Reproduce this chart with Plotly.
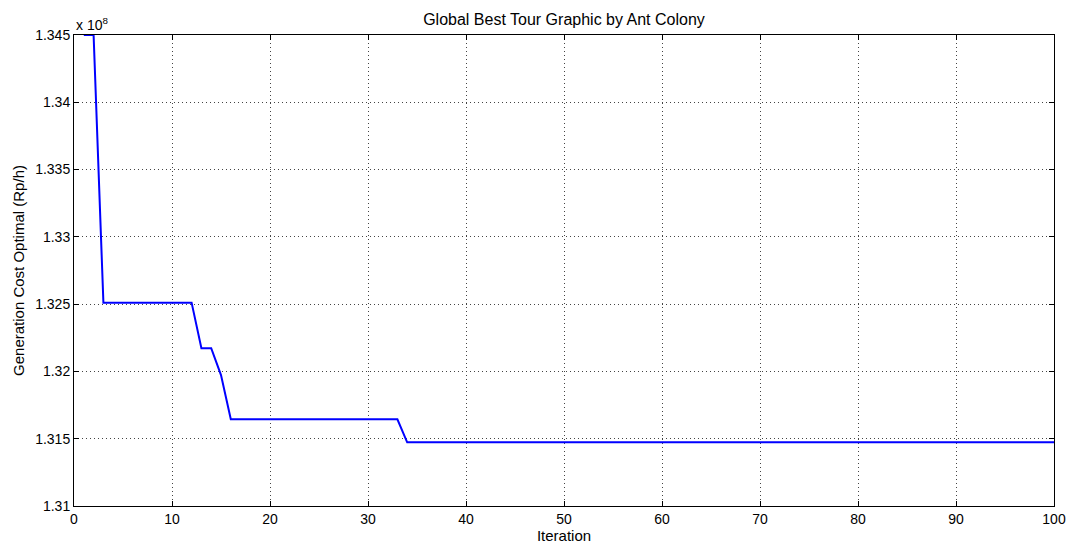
import plotly.graph_objects as go

# Iterations 1..100
iterations = list(range(1, 101))

# Global best generation cost (units of 1e8 Rp/h)
best_cost = [
    1.34500, 1.34500, 1.32511, 1.32511, 1.32511, 1.32511, 1.32511, 1.32511, 1.32511, 1.32511,
    1.32511, 1.32511, 1.32172, 1.32172, 1.31973, 1.31644, 1.31644, 1.31644, 1.31644, 1.31644,
    1.31644, 1.31644, 1.31644, 1.31644, 1.31644, 1.31644, 1.31644, 1.31644, 1.31644, 1.31644,
    1.31644, 1.31644, 1.31644, 1.31473, 1.31473, 1.31473, 1.31473, 1.31473, 1.31473, 1.31473,
    1.31473, 1.31473, 1.31473, 1.31473, 1.31473, 1.31473, 1.31473, 1.31473, 1.31473, 1.31473,
    1.31473, 1.31473, 1.31473, 1.31473, 1.31473, 1.31473, 1.31473, 1.31473, 1.31473, 1.31473,
    1.31473, 1.31473, 1.31473, 1.31473, 1.31473, 1.31473, 1.31473, 1.31473, 1.31473, 1.31473,
    1.31473, 1.31473, 1.31473, 1.31473, 1.31473, 1.31473, 1.31473, 1.31473, 1.31473, 1.31473,
    1.31473, 1.31473, 1.31473, 1.31473, 1.31473, 1.31473, 1.31473, 1.31473, 1.31473, 1.31473,
    1.31473, 1.31473, 1.31473, 1.31473, 1.31473, 1.31473, 1.31473, 1.31473, 1.31473, 1.31473,
]

x_ticks = [0, 10, 20, 30, 40, 50, 60, 70, 80, 90, 100]
y_ticks = [1.31, 1.315, 1.32, 1.325, 1.33, 1.335, 1.34, 1.345]
y_tick_text = ["1.31", "1.315", "1.32", "1.325", "1.33", "1.335", "1.34", "1.345"]

FONT = "Liberation Sans, Arial, sans-serif"

W, H = 1067, 545

fig = go.Figure()
fig.add_trace(go.Scatter(
    x=iterations, y=best_cost, mode="lines",
    line=dict(color="#0000ff", width=2),
    showlegend=False,
))

axis_common = dict(
    showline=True, linecolor="#000000", linewidth=1, mirror="ticks",
    ticks="inside", ticklen=5, tickcolor="#000000", tickwidth=1,
    showgrid=True, gridcolor="#444444", gridwidth=1, griddash="1px,3px",
    zeroline=False, automargin=False,
    tickfont=dict(family=FONT, size=14, color="#000000"),
)

fig.update_layout(
    width=W, height=H,
    margin=dict(l=74, r=13, t=35, b=39, autoexpand=False),
    paper_bgcolor="#ffffff", plot_bgcolor="#ffffff",
    title=dict(text="Global Best Tour Graphic by Ant Colony",
               x=(74 + 1054) / 2 / W, xanchor="center", y=1 - 19 / H, yanchor="middle",
               font=dict(family=FONT, size=16, color="#000000")),
    xaxis=dict(range=[0, 100], tickvals=x_ticks,
               title=dict(text="Iteration", standoff=2,
                          font=dict(family=FONT, size=15, color="#000000")),
               **axis_common),
    yaxis=dict(range=[1.31, 1.345], tickvals=y_ticks, ticktext=y_tick_text,
               title=dict(text="Generation Cost Optimal (Rp/h)", standoff=6,
                          font=dict(family=FONT, size=15, color="#000000")),
               **axis_common),
    annotations=[dict(text="x 10<sup>8</sup>", xref="paper", yref="paper",
                      x=0, y=1, xanchor="left", yanchor="bottom", showarrow=False,
                      font=dict(family=FONT, size=14, color="#000000"))],
)

fig.write_html(
    "out.html",
    config={"displayModeBar": False},
    post_script="document.body.style.margin='0';document.body.style.overflow='hidden';",
)
